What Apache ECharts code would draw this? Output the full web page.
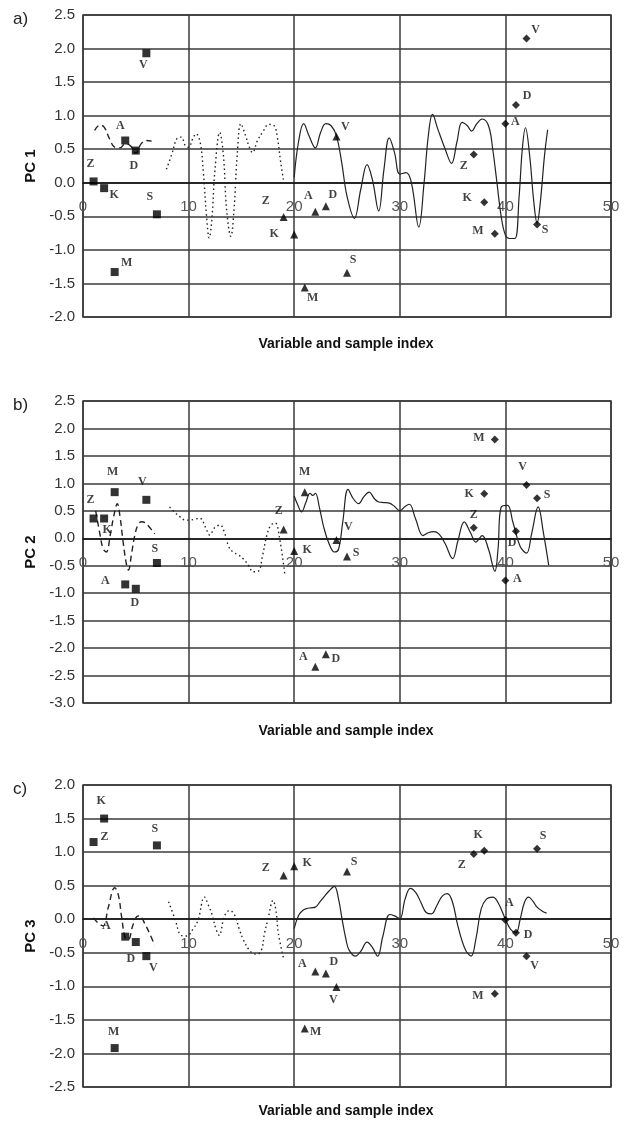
<!DOCTYPE html>
<html>
<head>
<meta charset="utf-8">
<script src="https://cdn.jsdelivr.net/npm/echarts@6/dist/echarts.min.js"></script>
<style>
    html, body {margin: 0; padding: 0; background: #fff;}
    #chart {width: 626px; height: 1123px;}
</style>
</head>
<body>
<div id="chart"></div>
<script>
// 样本名称及其横坐标
var sampleNames = ['Z', 'K', 'M', 'A', 'D', 'V', 'S'];
var squareX = [1, 2, 3, 4, 5, 6, 7];
var triangleX = [19, 20, 21, 22, 23, 24, 25];
var diamondX = [37, 38, 39, 40, 41, 42, 43];

// 各主成分的样本得分
var pc1Squares = [0.02, -0.08, -1.33, 0.63, 0.48, 1.93, -0.47];
var pc1Triangles = [-0.51, -0.77, -1.56, -0.43, -0.35, 0.69, -1.34];
var pc1Diamonds = [0.42, -0.29, -0.76, 0.88, 1.16, 2.15, -0.62];

var pc2Squares = [0.36, 0.36, 0.84, -0.84, -0.92, 0.70, -0.45];
var pc2Triangles = [0.16, -0.23, 0.84, -2.34, -2.11, -0.03, -0.33];
var pc2Diamonds = [0.19, 0.81, 1.80, -0.77, 0.13, 0.97, 0.73];

var pc3Squares = [1.15, 1.50, -1.92, -0.26, -0.34, -0.55, 1.10];
var pc3Triangles = [0.65, 0.79, -1.63, -0.78, -0.81, -1.01, 0.71];
var pc3Diamonds = [0.97, 1.02, -1.11, -0.01, -0.20, -0.55, 1.05];

// 变量载荷曲线 [变量序号, 载荷]
var pc1Dashed = [[1.1, 0.78], [1.6, 0.86], [2.0, 0.83], [2.5, 0.66], [3.0, 0.53], [3.5, 0.52], [4.0, 0.58],
    [4.5, 0.55], [5.0, 0.44], [5.5, 0.58], [6.0, 0.63], [6.5, 0.62]];
var pc1Dotted = [[7.9, 0.2], [8.4, 0.42], [8.9, 0.66], [9.3, 0.68], [9.7, 0.55], [10.0, 0.53], [10.4, 0.66],
    [10.7, 0.73], [11.1, 0.6], [11.4, 0.15], [11.7, -0.5], [11.95, -0.82], [12.2, -0.55], [12.5, 0.2],
    [12.95, 0.75], [13.3, 0.4], [13.6, -0.4], [14.0, -0.8], [14.3, -0.4], [14.6, 0.4], [14.95, 0.88],
    [15.4, 0.7], [15.75, 0.53], [16.05, 0.45], [16.5, 0.62], [17.0, 0.75], [17.6, 0.87], [18.1, 0.85],
    [18.4, 0.68], [18.7, 0.33], [19.0, 0.02]];
var pc1Solid = [[20, 0.08], [20.4, 0.6], [20.9, 0.88], [21.4, 0.7], [22.0, 0.52], [22.5, 0.75], [23.0, 0.88],
    [23.5, 0.85], [24.0, 0.7], [24.5, 0.3], [25.0, -0.2], [25.7, -0.53], [26.3, -0.1], [26.9, 0.27],
    [27.4, 0.05], [28.0, -0.42], [28.5, 0.2], [29.0, 0.67], [29.5, 0.45], [30.0, 0.13], [30.6, 0.15],
    [31.1, 0.0], [31.8, -0.66], [32.3, 0.0], [32.7, 0.7], [33.1, 1.02], [33.6, 0.8], [34.3, 0.5],
    [34.9, 0.29], [35.4, 0.6], [35.9, 0.9], [36.4, 0.85], [36.8, 0.77], [37.3, 0.88], [37.8, 0.95],
    [38.4, 0.85], [38.8, 0.5], [39.2, 0.0], [39.6, -0.5], [40.0, -0.78], [40.4, -0.83], [40.9, -0.83],
    [41.3, -0.2], [41.6, 0.5], [41.9, 0.82], [42.3, 0.4], [42.7, -0.3], [43.0, -0.6], [43.3, -0.3],
    [43.7, 0.4], [44.0, 0.79]];

var pc2Dashed = [[1.2, 0.5], [1.6, 0.08], [1.9, -0.19], [2.2, -0.25], [2.6, 0.08], [2.9, 0.39], [3.25, 0.63],
    [3.5, 0.4], [3.8, -0.07], [4.1, -0.46], [4.3, -0.58], [4.6, -0.28], [4.9, 0.05], [5.2, 0.24],
    [5.55, 0.3], [6.0, 0.27], [6.3, 0.2], [6.8, 0.08]];
var pc2Dotted = [[8.2, 0.57], [8.7, 0.47], [9.2, 0.39], [9.7, 0.33], [10.1, 0.33], [10.6, 0.35], [11.1, 0.36],
    [11.6, 0.2], [12.0, 0.06], [12.5, 0.2], [13.0, 0.24], [13.4, 0.1], [13.8, -0.15], [14.2, -0.25],
    [14.7, -0.3], [15.2, -0.38], [15.7, -0.5], [16.1, -0.61], [16.6, -0.6], [17.0, -0.32], [17.4, 0.05],
    [17.8, 0.24], [18.2, 0.28], [18.6, 0.02], [19.1, -0.64]];
var pc2Solid = [[20, 0.77], [20.35, 0.6], [20.7, 0.48], [21.1, 0.65], [21.5, 0.82], [21.75, 0.78], [22.0, 0.82],
    [22.4, 0.55], [22.8, 0.2], [23.3, -0.1], [23.8, -0.25], [24.2, -0.2], [24.6, 0.3], [25.1, 0.89],
    [25.6, 0.72], [26.1, 0.63], [26.6, 0.76], [27.1, 0.84], [27.6, 0.72], [28.0, 0.66], [28.5, 0.65],
    [29.0, 0.64], [29.5, 0.58], [30.0, 0.5], [30.5, 0.58], [30.9, 0.62], [31.5, 0.35], [32.2, 0.05],
    [32.7, 0.1], [33.2, 0.12], [33.7, 0.08], [34.3, -0.1], [35.0, -0.37], [35.5, -0.05], [36.1, 0.3],
    [36.7, 0.1], [37.2, -0.07], [37.8, 0.05], [38.4, -0.2], [39.0, -0.6], [39.3, -0.2], [39.6, 0.57],
    [40.2, 0.6], [40.7, 0.3], [41.4, -0.15], [42.0, -0.27], [42.5, 0.1], [43.1, 0.57], [43.6, 0.1],
    [44.1, -0.49]];

var pc3Dashed = [[1.0, 0.02], [1.45, -0.06], [1.9, -0.1], [2.4, 0.18], [3.0, 0.47], [3.35, 0.36], [3.66, 0.03],
    [4.0, -0.28], [4.3, -0.3], [4.7, -0.1], [5.1, 0.04], [5.4, 0.05], [5.8, -0.05], [6.3, -0.21],
    [6.8, -0.39]];
var pc3Dotted = [[8.1, 0.26], [8.7, 0.01], [9.3, -0.24], [9.8, -0.25], [10.4, -0.15], [10.9, -0.01],
    [11.5, 0.33], [11.9, 0.2], [12.2, 0.08], [12.6, -0.15], [12.9, -0.24], [13.4, 0.05], [13.9, 0.13],
    [14.4, 0.05], [14.8, -0.15], [15.2, -0.31], [15.7, -0.45], [16.1, -0.51], [16.5, -0.52], [16.9, -0.46],
    [17.2, -0.2], [17.5, -0.01], [18.0, 0.28], [18.3, 0.1], [18.5, -0.21], [19.0, -0.59]];
var pc3Solid = [[20, -0.14], [20.4, 0.05], [20.8, 0.13], [21.2, 0.16], [21.6, 0.17], [22.0, 0.18], [22.4, 0.25],
    [22.8, 0.33], [23.3, 0.42], [23.8, 0.49], [24.2, 0.3], [24.5, 0.03], [24.9, -0.3], [25.2, -0.46],
    [25.8, -0.55], [26.3, -0.48], [26.9, -0.34], [27.4, -0.42], [27.9, -0.55], [28.4, -0.25], [29.05, 0.07],
    [29.5, 0.05], [30.0, 0.01], [30.5, 0.3], [31.0, 0.46], [31.5, 0.4], [32.0, 0.25], [32.5, 0.1],
    [33.0, 0.08], [33.5, 0.2], [34.0, 0.34], [34.5, 0.38], [35.0, 0.25], [35.5, -0.1], [36.2, -0.45],
    [36.75, -0.55], [37.2, -0.3], [37.7, 0.15], [38.2, 0.3], [38.8, 0.33], [39.3, 0.25], [40.0, 0.0],
    [40.5, -0.15], [41.0, -0.2], [41.4, 0.0], [41.8, 0.25], [42.2, 0.33], [42.6, 0.27], [43.0, 0.18],
    [43.5, 0.12], [43.9, 0.09]];

// 标签相对于标记的偏移（像素），仅为样式
var labelOffsets = [
    {
        squares: [[-3, -18], [10, 7], [12, -9], [-5, -15], [-2, 15], [-3, 12], [-7, -17]],
        triangles: [[-18, -16], [-20, -1], [8, 10], [-7, -16], [7, -11], [9, -10], [6, -13]],
        diamonds: [[-10, 11], [-17, -4], [-17, -3], [10, -2], [11, -9], [9, -9], [8, 6]]
    },
    {
        squares: [[-3, -19], [3, 11], [-2, -20], [-20, -3], [-1, 14], [-4, -18], [-2, -14]],
        triangles: [[-5, -19], [13, -1], [0, -20], [-12, -10], [10, 5], [12, -13], [9, -3]],
        diamonds: [[0, -13], [-15, 0], [-16, -2], [12, -2], [-4, 12], [-4, -18], [10, -3]]
    },
    {
        squares: [[11, -5], [-3, -18], [-1, -16], [-19, -11], [-5, 17], [7, 12], [-2, -16]],
        triangles: [[-18, -8], [13, -3], [11, 3], [-13, -8], [8, -12], [-3, 13], [7, -10]],
        diamonds: [[-12, 11], [-6, -16], [-17, 2], [4, -17], [12, 2], [8, 10], [6, -13]]
    }
];

var panels = [
    {tag: 'a)', name: 'PC 1', top: 15, titleY: 344, min: -2, max: 2.5,
        squares: pc1Squares, triangles: pc1Triangles, diamonds: pc1Diamonds,
        dashed: pc1Dashed, dotted: pc1Dotted, solid: pc1Solid},
    {tag: 'b)', name: 'PC 2', top: 401, titleY: 731, min: -3, max: 2.5,
        squares: pc2Squares, triangles: pc2Triangles, diamonds: pc2Diamonds,
        dashed: pc2Dashed, dotted: pc2Dotted, solid: pc2Solid},
    {tag: 'c)', name: 'PC 3', top: 785, titleY: 1111, min: -2.5, max: 2,
        squares: pc3Squares, triangles: pc3Triangles, diamonds: pc3Diamonds,
        dashed: pc3Dashed, dotted: pc3Dotted, solid: pc3Solid}
];

var PLOT_LEFT = 83;
var PLOT_WIDTH = 528;
var PLOT_HEIGHT = 302;
var GRID_COLOR = '#3a3a3a';
var LABEL_FONT = 'Liberation Serif';

function scatterData(xs, ys, offsets) {
    return xs.map(
        function (x, i) {
            return {
                name: sampleNames[i],
                value: [x, ys[i]],
                label: {offset: offsets[i]}
            };
        }
    );
}

function scatterSeries(index, symbol, size, xs, ys, offsets) {
    return {
        type: 'scatter',
        xAxisIndex: index,
        yAxisIndex: index,
        symbol: symbol,
        symbolSize: size,
        itemStyle: {color: '#000'},
        label: {
            show: true,
            position: 'inside',
            formatter: '{b}',
            color: '#111',
            fontFamily: LABEL_FONT,
            fontWeight: 'bold',
            fontSize: 12
        },
        z: 5,
        data: scatterData(xs, ys, offsets)
    };
}

function lineSeries(index, type, points) {
    return {
        type: 'line',
        xAxisIndex: index,
        yAxisIndex: index,
        smooth: 0.4,
        showSymbol: false,
        lineStyle: {color: '#222', width: type === 'solid' ? 1.2 : 1.4, type: type},
        z: 3,
        data: points
    };
}

var grids = [];
var xAxes = [];
var yAxes = [];
var series = [];
var graphics = [];

panels.forEach(
    function (p, i) {
        // x 轴放到 y=0 处（Excel 样式），用 offset 把整条轴连同刻度标签移上去
        var zeroOffset = -PLOT_HEIGHT * (0 - p.min) / (p.max - p.min);
        grids.push({
            left: PLOT_LEFT,
            top: p.top,
            width: PLOT_WIDTH,
            height: PLOT_HEIGHT,
            show: true,
            borderColor: GRID_COLOR,
            borderWidth: 1.5
        });
        xAxes.push({
            type: 'value',
            gridIndex: i,
            min: 0,
            max: 50,
            interval: 10,
            offset: zeroOffset,
            axisLine: {onZero: false, lineStyle: {color: '#111', width: 1.5}},
            axisTick: {show: false},
            axisLabel: {
                margin: 17,
                fontSize: 15,
                color: '#555',
                fontFamily: 'Liberation Sans'
            },
            splitLine: {lineStyle: {color: GRID_COLOR, width: 1.5}}
        });
        yAxes.push({
            type: 'value',
            gridIndex: i,
            min: p.min,
            max: p.max,
            interval: 0.5,
            name: p.name,
            nameLocation: 'middle',
            nameGap: 37,
            nameTextStyle: {fontSize: 15, fontWeight: 'bold', color: '#111', fontFamily: 'Liberation Sans'},
            axisLine: {show: false},
            axisTick: {show: false},
            axisLabel: {
                margin: 8,
                fontSize: 15,
                color: '#333',
                fontFamily: 'Liberation Sans',
                formatter: function (v) {
                    return v.toFixed(1);
                }
            },
            splitLine: {lineStyle: {color: GRID_COLOR, width: 1.5}}
        });

        var offs = labelOffsets[i];
        series.push(lineSeries(i, [6, 4], p.dashed));
        series.push(lineSeries(i, [1.5, 3], p.dotted));
        series.push(lineSeries(i, 'solid', p.solid));
        series.push(scatterSeries(i, 'rect', 8, squareX, p.squares, offs.squares));
        series.push(scatterSeries(i, 'triangle', 8, triangleX, p.triangles, offs.triangles));
        series.push(scatterSeries(i, 'diamond', 8, diamondX, p.diamonds, offs.diamonds));

        graphics.push({
            type: 'text',
            left: 13,
            top: p.top - 4,
            style: {text: p.tag, font: '17px "Liberation Sans"', fill: '#222'}
        });
        graphics.push({
            type: 'text',
            x: 346,
            y: p.titleY,
            style: {
                text: 'Variable and sample index',
                font: 'bold 14px "Liberation Sans"',
                fill: '#111',
                align: 'center',
                verticalAlign: 'middle'
            }
        });
    }
);

var chart = echarts.init(document.getElementById('chart'));
chart.setOption({
    animation: false,
    grid: grids,
    xAxis: xAxes,
    yAxis: yAxes,
    series: series,
    graphic: graphics
});
</script>
</body>
</html>
